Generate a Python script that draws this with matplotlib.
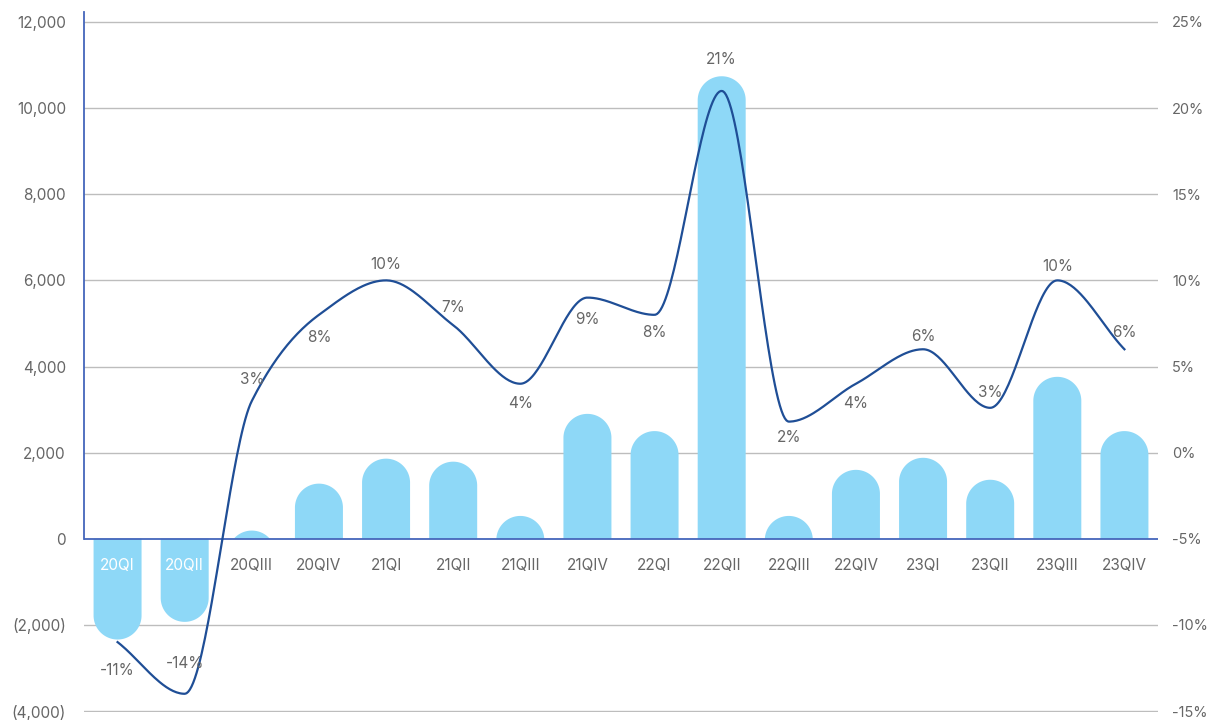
import matplotlib
matplotlib.use("Agg")
import matplotlib.pyplot as plt
import numpy as np
from matplotlib.patches import Polygon
from matplotlib.ticker import FuncFormatter

quarters = ["20QI", "20QII", "20QIII", "20QIV", "21QI", "21QII", "21QIII", "21QIV",
            "22QI", "22QII", "22QIII", "22QIV", "23QI", "23QII", "23QIII", "23QIV"]
amounts = [-2340, -1930, 190, 1280, 1860, 1790, 530, 2900,
           2500, 10740, 530, 1600, 1880, 1370, 3760, 2500]
margin_pct = [-11, -14, 3, 8, 10, 7.4, 4, 9,
              8, 21, 1.8, 4, 6, 2.6, 10, 6]
# label shift from the line point, pixels (positive = above)
label_shift = [-28, 30, 21, -23, 16, 18, -20, -22,
               -18, 31, -16, -20, 13, 15, 14, 17]

plt.rcParams["font.family"] = ["Inter", "DejaVu Sans"]

bar_color = "#8ED8F7"
line_color = "#1F4E96"
axis_color = "#4466BB"
text_color = "#666666"
grid_color = "#BDBDBD"

fig = plt.figure(figsize=(12.08, 7.2), dpi=100)
ax = fig.add_axes([84 / 1208, 8 / 720, 1074 / 1208, 700 / 720])
ax2 = ax.twinx()

n = len(quarters)
x = np.arange(n)
y_top = 12232
y_bot = -4023
ax.set_xlim(-0.5, n - 0.5)
ax.set_ylim(y_bot, y_top)
# right axis: 0 on the left maps to -5%, 2,000 per 5%
ax2.set_ylim(-5 + y_bot / 400, -5 + y_top / 400)

# ---------- gridlines ----------
for g in range(-4000, 12001, 2000):
    if g != 0:
        ax.axhline(g, color=grid_color, linewidth=1, zorder=0)

# ---------- rounded bars ----------
bar_w = 0.715
hw = bar_w / 2
px_x = ax.bbox.width / n
px_y = ax.bbox.height / (y_top - y_bot)
ry = hw * px_x / px_y  # radius in y data units
t = np.linspace(0, np.pi, 60)

for xi, v in zip(x, amounts):
    s = 1 if v >= 0 else -1
    cy = v - s * ry
    arc_x = xi - hw * np.cos(t)
    arc_y = cy + s * ry * np.sin(t)
    xs = np.concatenate([[xi - hw, xi - hw], arc_x, [xi + hw, xi + hw]])
    ys = np.concatenate([[0, cy], arc_y, [cy, 0]])
    ys = np.maximum(ys, 0) if s > 0 else np.minimum(ys, 0)
    ax.add_patch(Polygon(np.column_stack([xs, ys]), closed=True,
                         facecolor=bar_color, edgecolor="none", zorder=2))

# ---------- smooth margin line (monotone cubic) ----------
def pchip(xk, yk, xs):
    xk = np.asarray(xk, float)
    yk = np.asarray(yk, float)
    h = np.diff(xk)
    d = np.diff(yk) / h
    m = np.zeros(len(xk))
    m[0], m[-1] = d[0], d[-1]
    for k in range(1, len(xk) - 1):
        if d[k - 1] * d[k] > 0:
            w1 = 2 * h[k] + h[k - 1]
            w2 = h[k] + 2 * h[k - 1]
            m[k] = (w1 + w2) / (w1 / d[k - 1] + w2 / d[k])
    idx = np.clip(np.searchsorted(xk, xs) - 1, 0, len(xk) - 2)
    hh = h[idx]
    tt = (xs - xk[idx]) / hh
    h00 = 2 * tt**3 - 3 * tt**2 + 1
    h10 = tt**3 - 2 * tt**2 + tt
    h01 = -2 * tt**3 + 3 * tt**2
    h11 = tt**3 - tt**2
    return h00 * yk[idx] + h10 * hh * m[idx] + h01 * yk[idx + 1] + h11 * hh * m[idx + 1]

xs_fine = np.linspace(0, n - 1, 600)
ax2.plot(xs_fine, pchip(x, margin_pct, xs_fine), color=line_color, linewidth=1.6, zorder=4)

for xi, p, dy in zip(x, margin_pct, label_shift):
    ax2.annotate(f"{round(p)}%", (xi, p), xytext=(0, dy),
                 textcoords="offset pixels", ha="center", va="center",
                 fontsize=11, color=text_color, zorder=5)

# ---------- category labels ----------
for xi, q, v in zip(x, quarters, amounts):
    ax.annotate(q, (xi, 0), xytext=(0, -27), textcoords="offset pixels",
                ha="center", va="center", fontsize=11,
                color="white" if v < 0 else text_color, zorder=5)

# ---------- axes styling ----------
ax.set_xticks([])
ax.set_yticks(range(-4000, 12001, 2000))
ax.yaxis.set_major_formatter(FuncFormatter(
    lambda v, _: "0" if v == 0 else (f"{v:,.0f}" if v > 0 else f"({-v:,.0f})")))
ax2.set_yticks(range(-15, 26, 5))
ax2.yaxis.set_major_formatter(FuncFormatter(lambda v, _: f"{v:.0f}%"))

ax.tick_params(axis="y", length=0, pad=13, labelsize=11, labelcolor=text_color)
ax2.tick_params(axis="y", length=0, pad=10, labelsize=10.5, labelcolor=text_color)

for a in (ax, ax2):
    for side in ("top", "right", "left", "bottom"):
        a.spines[side].set_visible(False)

ax.spines["left"].set_visible(True)
ax.spines["left"].set_color(axis_color)
ax.spines["left"].set_linewidth(1.3)
ax.spines["left"].set_bounds(0, y_top)
ax.axhline(0, color=axis_color, linewidth=1.3, zorder=3)

fig.savefig("out.png", dpi=100)
plt.close(fig)
